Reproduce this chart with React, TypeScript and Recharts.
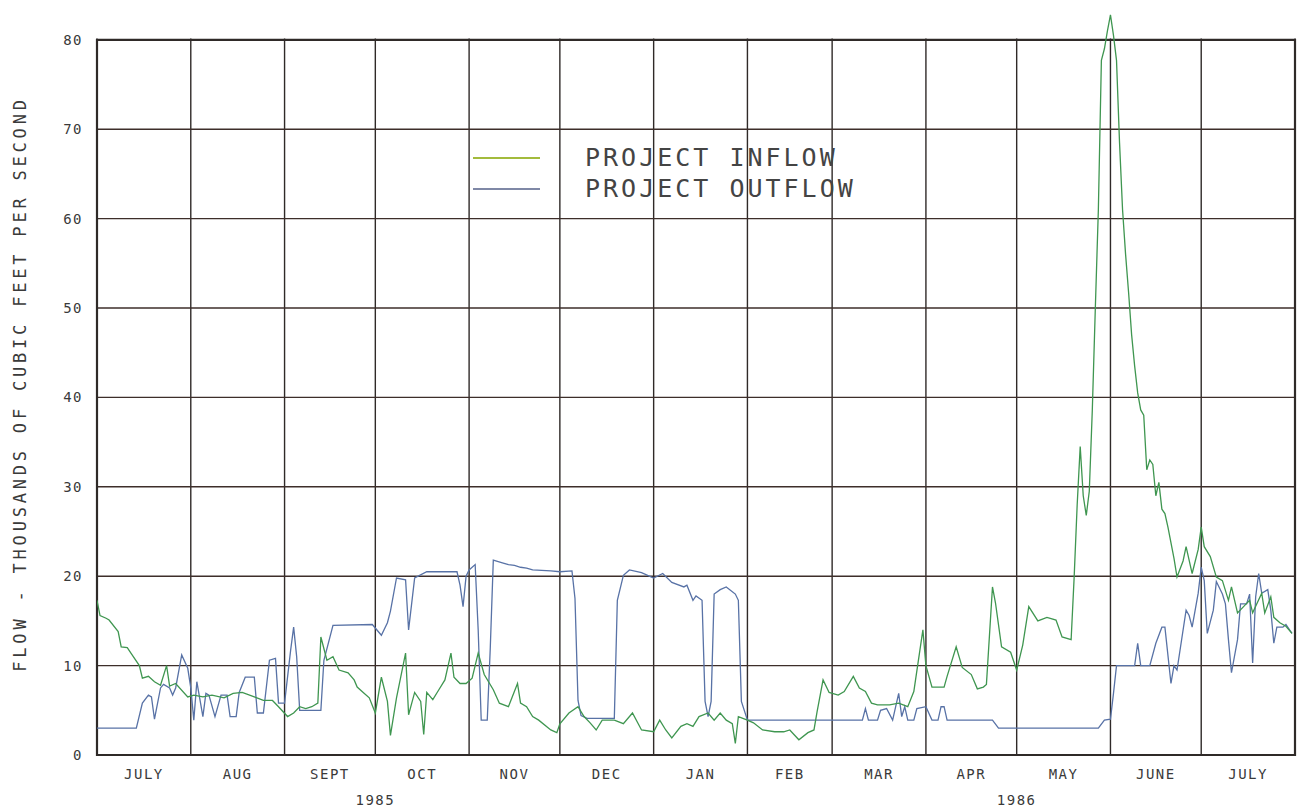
import React from 'react';
import {
  LineChart,
  Line,
  XAxis,
  YAxis,
  CartesianGrid,
  ReferenceArea,
  Label,
} from 'recharts';

// day 0 = 1 July 1985, one point per reading [day, thousand cfs]
const inflow: [number, number][] = [
  [0, 17.3], [1, 15.6], [3, 15.3], [4, 15.1], [7, 13.8], [8, 12.1], [10, 12.0], [12, 11.0],
  [14, 10.0], [15, 8.6], [17, 8.8], [19, 8.2], [21, 7.8], [23, 10.0], [24, 7.7], [26, 8.0],
  [30, 6.5], [32, 6.7], [35, 6.5], [38, 6.7], [42, 6.4], [45, 6.9], [48, 7.0], [52, 6.5],
  [55, 6.1], [58, 6.1], [60, 5.4], [63, 4.3], [65, 4.7], [67, 5.4], [69, 5.2], [71, 5.4],
  [73, 5.8], [74, 13.2], [76, 10.6], [78, 11.0], [80, 9.5], [83, 9.2], [85, 8.4], [86, 7.6],
  [88, 7.0], [90, 6.4], [92, 4.7], [94, 8.7], [96, 6.0], [97, 2.2], [99, 6.4], [102, 11.4],
  [103, 4.5], [105, 7.0], [107, 6.0], [108, 2.3], [109, 7.0], [111, 6.2], [113, 7.3], [115, 8.4],
  [117, 11.4], [118, 8.7], [120, 8.0], [122, 8.0], [124, 8.6], [126, 11.4], [128, 9.0], [131, 7.3],
  [133, 5.8], [136, 5.4], [139, 8.0], [140, 5.8], [142, 5.4], [144, 4.3], [146, 3.9], [150, 2.8],
  [152, 2.5], [153, 3.5], [156, 4.7], [159, 5.4], [161, 4.3], [163, 3.6], [165, 2.8], [167, 3.9],
  [171, 3.9], [174, 3.5], [177, 4.7], [180, 2.8], [184, 2.6], [186, 3.9], [188, 2.8], [190, 1.9],
  [193, 3.2], [195, 3.5], [197, 3.2], [199, 4.3], [202, 4.7], [204, 3.9], [206, 4.7], [208, 3.9],
  [210, 3.5], [211, 1.3], [212, 4.3], [215, 3.9], [217, 3.6], [220, 2.8], [224, 2.6], [227, 2.6],
  [229, 2.8], [232, 1.7], [235, 2.5], [237, 2.8], [238, 4.8], [240, 8.4], [242, 7.0], [245, 6.7],
  [247, 7.1], [250, 8.8], [252, 7.5], [254, 7.1], [256, 5.8], [258, 5.6], [262, 5.6], [265, 5.8],
  [268, 5.4], [270, 7.1], [272, 11.7], [273, 14.0], [274, 10.0], [276, 7.6], [280, 7.6], [281, 8.8],
  [284, 12.1], [286, 9.8], [289, 9.0], [291, 7.4], [293, 7.6], [294, 7.9], [296, 18.8], [297, 17.0],
  [299, 12.1], [302, 11.5], [304, 9.5], [306, 12.3], [308, 16.6], [311, 15.0], [314, 15.4], [317, 15.1],
  [319, 13.2], [322, 12.9], [323, 19.9], [324, 28.0], [325, 34.5], [326, 29.0], [327, 26.8], [328, 29.5],
  [329, 38.6], [330, 50.0], [331, 61.0], [332, 77.7], [333, 79.0], [334, 81.0], [335, 82.8], [336, 80.5],
  [337, 77.7], [338, 68.5], [339, 61.0], [340, 56.0], [341, 51.7], [342, 47.0], [343, 43.5], [344, 40.5],
  [345, 38.6], [346, 38.0], [347, 31.9], [348, 33.0], [349, 32.5], [350, 29.0], [351, 30.5], [352, 27.5],
  [353, 27.0], [354, 25.5], [356, 22.0], [357, 19.9], [359, 21.7], [360, 23.3], [362, 20.3], [364, 23.0],
  [365, 25.5], [366, 23.3], [368, 22.2], [370, 19.9], [372, 19.5], [374, 17.3], [375, 18.8], [377, 15.9],
  [379, 16.6], [381, 17.3], [382, 15.9], [385, 18.1], [386, 15.9], [388, 17.7], [389, 15.4], [391, 14.8],
  [393, 14.4], [395, 13.6],
];

const outflow: [number, number][] = [
  [0, 3.0], [13, 3.0], [15, 5.8], [17, 6.7], [18, 6.5], [19, 4.0], [21, 7.5], [22, 7.9],
  [24, 7.5], [25, 6.7], [26, 7.5], [28, 11.2], [30, 9.7], [31, 7.5], [32, 3.9], [33, 8.2],
  [35, 4.3], [36, 6.9], [37, 6.7], [39, 4.3], [41, 6.7], [43, 6.7], [44, 4.3], [46, 4.3],
  [47, 7.0], [49, 8.7], [52, 8.7], [53, 4.7], [55, 4.7], [57, 10.6], [59, 10.8], [60, 5.8],
  [62, 5.8], [64, 11.7], [65, 14.3], [66, 11.0], [67, 5.0], [74, 5.0], [75, 10.6], [78, 14.5],
  [91, 14.6], [94, 13.4], [96, 14.8], [97, 16.1], [99, 19.8], [102, 19.6], [103, 14.0], [105, 19.8],
  [109, 20.5], [119, 20.5], [120, 19.0], [121, 16.6], [122, 20.0], [123, 20.7], [125, 21.3], [126, 14.0],
  [127, 3.9], [129, 3.9], [130, 12.0], [131, 21.8], [134, 21.5], [136, 21.3], [138, 21.2], [140, 21.0],
  [142, 20.9], [144, 20.7], [150, 20.6], [153, 20.5], [157, 20.6], [158, 17.5], [159, 6.1], [160, 4.4],
  [162, 4.1], [171, 4.1], [172, 17.3], [174, 20.1], [176, 20.7], [180, 20.4], [184, 19.8], [187, 20.3],
  [190, 19.3], [194, 18.8], [195, 19.0], [197, 17.3], [198, 17.8], [200, 17.3], [201, 6.0], [202, 4.3],
  [203, 6.0], [204, 18.0], [206, 18.5], [208, 18.8], [211, 18.0], [212, 17.3], [213, 6.0], [215, 3.9],
  [253, 3.9], [254, 5.2], [255, 3.9], [258, 3.9], [259, 5.0], [261, 5.2], [263, 3.9], [264, 5.4],
  [265, 6.9], [266, 4.3], [267, 5.4], [268, 3.9], [270, 3.9], [271, 5.2], [274, 5.4], [276, 3.9],
  [278, 3.9], [279, 5.4], [280, 5.4], [281, 3.9], [296, 3.9], [298, 3.0], [331, 3.0], [333, 3.9],
  [335, 4.0], [336, 6.9], [337, 10.0], [343, 10.0], [344, 12.5], [345, 10.0], [348, 10.0], [350, 12.5],
  [352, 14.3], [353, 14.3], [355, 8.0], [356, 10.0], [357, 9.5], [360, 16.2], [361, 15.6], [362, 14.3],
  [364, 18.1], [365, 21.0], [366, 19.5], [367, 13.6], [369, 16.2], [370, 19.4], [372, 18.0], [373, 16.9],
  [374, 12.9], [375, 9.2], [377, 12.9], [378, 16.9], [380, 16.9], [381, 18.0], [382, 10.3], [383, 17.7],
  [384, 20.3], [385, 18.1], [387, 18.5], [388, 16.2], [389, 12.5], [390, 14.3], [392, 14.3], [393, 14.6],
  [395, 13.6],
];

// first day of each month, July 1985 .. August 1986
const monthStarts = [0, 31, 62, 92, 123, 153, 184, 215, 243, 274, 304, 335, 365, 396];
const monthLabels = ['JULY', 'AUG', 'SEPT', 'OCT', 'NOV', 'DEC', 'JAN', 'FEB', 'MAR', 'APR', 'MAY', 'JUNE', 'JULY'];
const yearTicks = [92, 304];
const yearLabels = ['1985', '1986'];
const yTicks = [0, 10, 20, 30, 40, 50, 60, 70, 80];

const INFLOW_COLOR = '#3f9650';
const OUTFLOW_COLOR = '#5872a6';
const GRID = '#2f2a28';
const TEXT = '#3a3a3a';
const FONT = '"DejaVu Sans Mono", monospace';

const monthMids = monthLabels.map((_, i) => (monthStarts[i] + monthStarts[i + 1]) / 2);
const inflowData = inflow.map(([day, flow]) => ({ day, flow }));
const outflowData = outflow.map(([day, flow]) => ({ day, flow }));

const tickStyle = { fontFamily: FONT, fontSize: 14, fill: TEXT, letterSpacing: 1.5 };

// month-boundary axis only feeds the grid, its ticks draw nothing
const NoTick = () => <g />;

export default function App() {
  return (
    <div style={{ position: 'relative', width: 1290, height: 803 }}>
      <LineChart width={1290} height={803} margin={{ top: 5, right: 3, bottom: 3, left: 0 }}>
        <CartesianGrid horizontal={false} stroke={GRID} strokeWidth={1.4} />
        <CartesianGrid vertical={false} stroke="#3d2e2a" strokeWidth={1.4} />
        <XAxis
          type="number"
          dataKey="day"
          domain={[0, 396]}
          allowDataOverflow
          ticks={monthStarts}
          interval={0}
          tick={NoTick}
          tickLine={false}
          axisLine={false}
          height={1}
        />
        <XAxis
          xAxisId="month"
          type="number"
          dataKey="day"
          domain={[0, 396]}
          allowDataOverflow
          ticks={monthMids}
          interval={0}
          tickFormatter={(_v: number, i: number) => monthLabels[i]}
          tickLine={false}
          axisLine={false}
          tickMargin={7}
          tick={tickStyle}
          height={26}
        />
        <XAxis
          xAxisId="year"
          type="number"
          dataKey="day"
          domain={[0, 396]}
          allowDataOverflow
          ticks={yearTicks}
          interval={0}
          tickFormatter={(_v: number, i: number) => yearLabels[i]}
          tickLine={false}
          axisLine={false}
          tickMargin={7}
          tick={tickStyle}
          height={26}
        />
        <YAxis
          type="number"
          domain={[0, 83]}
          allowDataOverflow
          ticks={yTicks}
          interval={0}
          tickLine={false}
          axisLine={false}
          tickMargin={8}
          tick={tickStyle}
          width={89}
        >
          <Label
            value="FLOW - THOUSANDS OF CUBIC FEET PER SECOND"
            angle={-90}
            position="insideLeft"
            offset={12}
            textAnchor="middle"
            style={{ fontFamily: FONT, fontSize: 17, fill: TEXT, letterSpacing: 3.8 }}
          />
        </YAxis>
        {/* blank band above the 80 line so only the flood peak shows there */}
        <ReferenceArea
          y1={80.3}
          y2={83}
          fill="#ffffff"
          fillOpacity={1}
          stroke="#ffffff"
          strokeWidth={2.5}
          ifOverflow="visible"
        />
        {/* heavier plot frame */}
        <ReferenceArea x1={0} x2={396} y1={0} y2={80} fill="none" stroke={GRID} strokeWidth={2.2} />
        <Line
          data={outflowData}
          dataKey="flow"
          type="linear"
          stroke={OUTFLOW_COLOR}
          strokeWidth={1.3}
          dot={false}
          isAnimationActive={false}
        />
        <Line
          data={inflowData}
          dataKey="flow"
          type="linear"
          stroke={INFLOW_COLOR}
          strokeWidth={1.3}
          dot={false}
          isAnimationActive={false}
        />
      </LineChart>
      <div
        style={{
          position: 'absolute',
          left: 465,
          top: 134,
          fontFamily: FONT,
          fontSize: 25,
          letterSpacing: 3,
          color: '#444',
          lineHeight: '31px',
        }}
      >
        {[
          { name: 'PROJECT INFLOW', color: '#a3bb3c' },
          { name: 'PROJECT OUTFLOW', color: '#7f88a6' },
        ].map((item) => (
          <div key={item.name} style={{ display: 'flex', alignItems: 'center', height: 31 }}>
            <span
              style={{ display: 'inline-block', width: 67, borderTop: `2px solid ${item.color}`, marginRight: 45 }}
            />
            <span>{item.name}</span>
          </div>
        ))}
      </div>
    </div>
  );
}
